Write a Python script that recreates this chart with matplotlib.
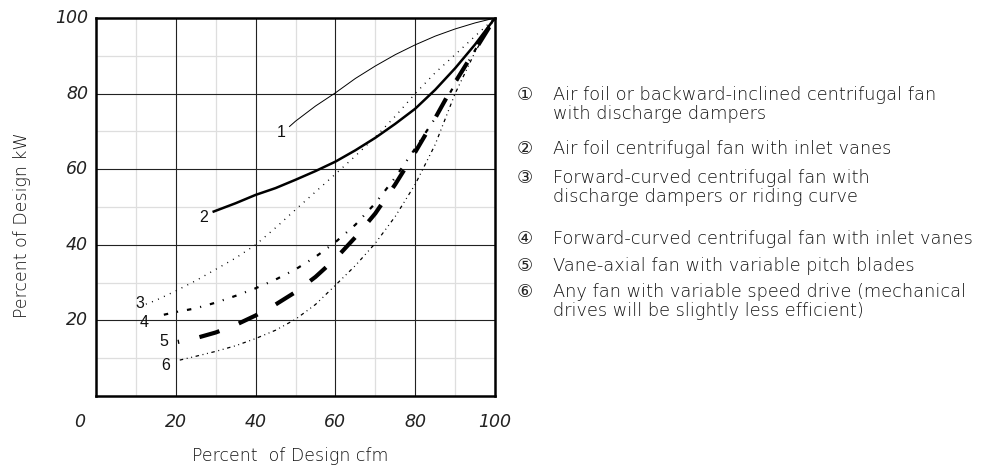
import matplotlib
matplotlib.use("Agg")
import matplotlib.pyplot as plt

plt.rcParams['lines.scale_dashes'] = False
plt.rcParams['font.family'] = ['DejaVu Sans', 'Noto Sans CJK SC']

W, H = 998, 468

# ---------------- data ----------------
c1_x = [48.5, 50, 55, 60, 65, 70, 75, 80, 85, 90, 95, 100]
c1_y = [71.3, 72.7, 76.7, 80.2, 84, 87.3, 90.3, 92.9, 95.2, 97.1, 98.7, 100]

c2_x = [29.5, 35, 40, 45, 50, 55, 60, 65, 70, 75, 80, 85, 90, 95, 100]
c2_y = [48.8, 51, 53.2, 55, 57.2, 59.5, 62, 65, 68.3, 72, 76, 81, 86.7, 93, 100]

c3_x = [12.5, 15, 20, 25, 30, 35, 40, 45, 50, 55, 60, 65, 70, 75, 80, 85, 90, 95, 100]
c3_y = [24.3, 25.3, 27.8, 30.5, 33.5, 36.5, 40, 44.5, 49.3, 54, 58.7, 63.5, 68.5, 74, 80, 85.5, 90.3, 95.2, 100]

c4_x = [17, 20, 25, 30, 35, 40, 45, 50, 55, 60, 65, 70, 75, 80, 85, 90, 95, 100]
c4_y = [21.5, 22.2, 23.2, 24.7, 26.5, 28.5, 30.8, 33.5, 36.8, 40.7, 45.3, 51, 57.8, 65.5, 73.5, 82.5, 91.5, 100]

c5_x = [20.5, 25, 30, 35, 40, 45, 50, 55, 60, 65, 70, 75, 80, 85, 90, 95, 100]
c5_y = [14.3, 15.3, 16.8, 18.8, 21.3, 24.2, 27.5, 31.5, 36.3, 42, 48.3, 56, 64.5, 73.5, 83, 91.5, 100]

c6_x = [21, 25, 30, 35, 40, 45, 50, 55, 60, 65, 70, 75, 80, 85, 90, 95, 100]
c6_y = [9.5, 10.5, 11.8, 13.3, 15.2, 17.4, 20.3, 24.2, 29.3, 34.5, 40.4, 47.5, 56, 66.5, 80, 91, 100]

curve_labels = ["1", "2", "3", "4", "5", "6"]
curve_label_x = [46.5, 27.0, 10.9, 12.0, 17.1, 17.5]
curve_label_y = [69.7, 47.3, 24.5, 19.4, 14.4, 8.0]

x_ticks = [20, 40, 60, 80, 100]
y_ticks = [20, 40, 60, 80, 100]

legend_marks = ["①", "②", "③", "④", "⑤", "⑥"]
legend_texts = [
    ["Air foil or backward-inclined centrifugal fan", "with discharge dampers"],
    ["Air foil centrifugal fan with inlet vanes"],
    ["Forward-curved centrifugal fan with", "discharge dampers or riding curve"],
    ["Forward-curved centrifugal fan with inlet vanes"],
    ["Vane-axial fan with variable pitch blades"],
    ["Any fan with variable speed drive (mechanical", "drives will be slightly less efficient)"],
]

x_label = "Percent  of Design cfm"
y_label = "Percent of Design kW"

# ---------------- figure ----------------
fig = plt.figure(figsize=(W / 100, H / 100), dpi=100)
def fx(px):
    return px / W
def fy(py):
    return 1 - py / H

ax = fig.add_axes([fx(96), fy(396), (495 - 96) / W, (396 - 18) / H])
ax.set_xlim(0, 100)
ax.set_ylim(0, 100)

# grid
for v in [10, 30, 50, 70, 90]:
    ax.axvline(v, color='#dedede', lw=0.9, zorder=1)
    ax.axhline(v, color='#dedede', lw=0.9, zorder=1)
for v in [20, 40, 60, 80]:
    ax.axvline(v, color='#222222', lw=0.8, zorder=2)
    ax.axhline(v, color='#222222', lw=0.8, zorder=2)

for s in ax.spines.values():
    s.set_linewidth(1.8)
    s.set_color('black')
    s.set_zorder(5)
ax.set_xticks([])
ax.set_yticks([])

k = 'black'
ax.plot(c1_x, c1_y, color=k, lw=0.7, zorder=4)
ax.plot(c2_x, c2_y, color=k, lw=1.8, zorder=4)
ax.plot(c3_x, c3_y, color=k, lw=1.0, zorder=4, linestyle=(0, (0.7, 4.0)))
ax.plot(c4_x, c4_y, color=k, lw=1.6, zorder=4, linestyle=(0, (3.2, 6.5, 0.8, 6.5)))
ax.plot(c5_x, c5_y, color=k, lw=3.0, zorder=4, linestyle=(14, (15, 15)))
ax.plot(c6_x, c6_y, color=k, lw=0.9, zorder=4, linestyle=(0, (2.5, 2.6, 0.7, 2.6, 0.7, 2.6)))

for t, x, y in zip(curve_labels, curve_label_x, curve_label_y):
    ax.text(x, y, t, ha='center', va='center', fontsize=11.5,
            family=['Liberation Sans', 'DejaVu Sans'], color='#111111', zorder=6)

# tick labels
tick_font = dict(fontsize=12.5, style='italic', weight='light', color='#222222')
for v in x_ticks:
    ax.text(v, -6.8, str(v), ha='center', va='center', clip_on=False, **tick_font)
ax.text(-4, -6.8, "0", ha='center', va='center', clip_on=False, **tick_font)
for v in y_ticks:
    ax.text(-2, v, str(v), ha='right', va='center', clip_on=False, **tick_font)

label_font = dict(fontsize=12.5, weight='light', color='#111111')
fig.text(fx(22), fy(225), y_label, rotation=90, ha='center', va='center', **label_font)
fig.text(fx(290), fy(456), x_label, ha='center', va='center', **label_font)

# legend text
entry_y = [95, 149, 178, 239, 266, 292]
for mark, lines, py in zip(legend_marks, legend_texts, entry_y):
    fig.text(fx(525), fy(py), mark, ha='center', va='center', fontsize=13,
             color='#222222')
    for i, line in enumerate(lines):
        fig.text(fx(553), fy(py + 19 * i), line, ha='left', va='center',
                 fontsize=12.8, weight='light', color='#111111')

fig.savefig("out.png", dpi=100)
